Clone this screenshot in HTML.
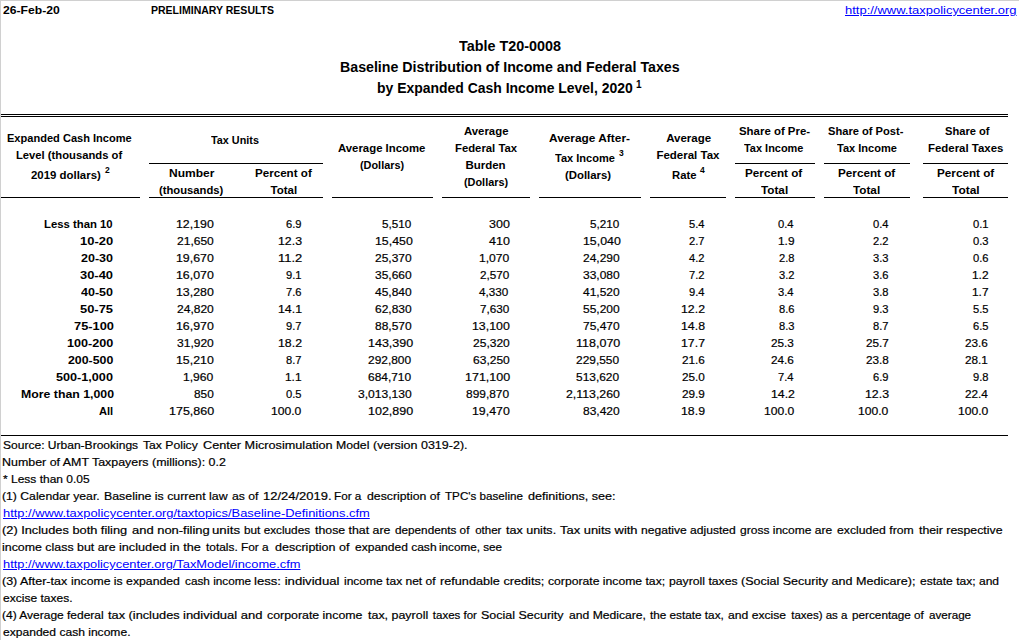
<!DOCTYPE html><html><head><meta charset="utf-8"><style>
html,body{margin:0;padding:0;background:#fff;width:1019px;height:640px;overflow:hidden;position:relative}
.t{position:absolute;white-space:nowrap;font-family:'Liberation Sans', sans-serif;line-height:14px;color:#000}
.t{-webkit-text-stroke:0.2px currentColor}.b{font-weight:bold;-webkit-text-stroke:0}.u{text-decoration:underline;-webkit-text-stroke:0}
.ln{position:absolute}
</style></head><body>
<div class="ln" style="left:0px;top:0px;width:1019px;height:1px;background:#d0d0d0"></div>
<div class="ln" style="left:0px;top:0px;width:1px;height:640px;background:#d0d0d0"></div>
<div class="ln" style="left:1px;top:114px;width:1007px;height:1px;background:#000"></div>
<div class="ln" style="left:1px;top:116px;width:1007px;height:1px;background:#000"></div>
<div class="ln" style="left:149px;top:163px;width:174px;height:1px;background:#000"></div>
<div class="ln" style="left:735px;top:163px;width:80px;height:1px;background:#000"></div>
<div class="ln" style="left:824px;top:163px;width:86px;height:1px;background:#000"></div>
<div class="ln" style="left:923px;top:163px;width:85px;height:1px;background:#000"></div>
<div class="ln" style="left:1px;top:197px;width:139px;height:1px;background:#000"></div>
<div class="ln" style="left:149px;top:197px;width:174px;height:1px;background:#000"></div>
<div class="ln" style="left:332px;top:197px;width:101px;height:1px;background:#000"></div>
<div class="ln" style="left:442px;top:197px;width:88px;height:1px;background:#000"></div>
<div class="ln" style="left:539px;top:197px;width:102px;height:1px;background:#000"></div>
<div class="ln" style="left:650px;top:197px;width:76px;height:1px;background:#000"></div>
<div class="ln" style="left:735px;top:197px;width:80px;height:1px;background:#000"></div>
<div class="ln" style="left:824px;top:197px;width:86px;height:1px;background:#000"></div>
<div class="ln" style="left:923px;top:197px;width:85px;height:1px;background:#000"></div>
<div class="ln" style="left:1px;top:435px;width:1007px;height:1px;background:#000"></div>
<div class="t b" style="top:3px;font-size:11.5px;left:3.00px;transform:scaleX(1.0566);transform-origin:left;">26-Feb-20</div>
<div class="t b" style="top:3px;font-size:11.5px;left:151.03px;transform:scaleX(0.9142);transform-origin:left;">PRELIMINARY RESULTS</div>
<div class="t u" style="top:3px;font-size:11.5px;color:#0000ff;left:844.83px;transform:scaleX(1.1276);transform-origin:left;">http://www.taxpolicycenter.org</div>
<div class="t b" style="top:39px;font-size:14px;left:459.00px;transform:scaleX(1.0253);transform-origin:left;">Table T20-0008</div>
<div class="t b" style="top:60px;font-size:14px;left:339.99px;transform:scaleX(1.0135);transform-origin:left;">Baseline Distribution of Income and Federal Taxes</div>
<div class="t b" style="top:81px;font-size:14px;left:377.00px;transform:scaleX(0.9961);transform-origin:left;">by Expanded Cash Income Level, 2020</div>
<div class="t b" style="top:78px;font-size:10px;left:636.00px;">1</div>
<div class="t b" style="top:131px;font-size:11.5px;left:7.02px;transform:scaleX(0.9613);transform-origin:left;">Expanded Cash Income</div>
<div class="t b" style="top:148px;font-size:11.5px;left:16.20px;transform:scaleX(0.9772);transform-origin:left;">Level (thousands of</div>
<div class="t b" style="top:168px;font-size:11.5px;left:31.21px;transform:scaleX(0.9929);transform-origin:left;">2019 dollars)</div>
<div class="t b" style="top:163px;font-size:8.5px;left:105.00px;">2</div>
<div class="t b" style="top:133px;font-size:11.5px;left:211.01px;transform:scaleX(0.9408);transform-origin:left;">Tax Units</div>
<div class="t b" style="top:166px;font-size:11.5px;left:168.78px;transform:scaleX(1.0467);transform-origin:left;">Number</div>
<div class="t b" style="top:183px;font-size:11.5px;left:159.22px;transform:scaleX(0.9769);transform-origin:left;">(thousands)</div>
<div class="t b" style="top:166px;font-size:11.5px;left:254.99px;transform:scaleX(1.0090);transform-origin:left;">Percent of</div>
<div class="t b" style="top:183px;font-size:11.5px;left:270.58px;">Total</div>
<div class="t b" style="top:141px;font-size:11.5px;left:338.21px;transform:scaleX(0.9886);transform-origin:left;">Average Income</div>
<div class="t b" style="top:158px;font-size:11.5px;left:360.03px;transform:scaleX(0.9459);transform-origin:left;">(Dollars)</div>
<div class="t b" style="top:124px;font-size:11.5px;left:464.41px;transform:scaleX(0.9892);transform-origin:left;">Average</div>
<div class="t b" style="top:141px;font-size:11.5px;left:455.20px;transform:scaleX(0.9840);transform-origin:left;">Federal Tax</div>
<div class="t b" style="top:158px;font-size:11.5px;left:465.40px;">Burden</div>
<div class="t b" style="top:175px;font-size:11.5px;left:464.43px;transform:scaleX(0.9457);transform-origin:left;">(Dollars)</div>
<div class="t b" style="top:131px;font-size:11.5px;left:549.16px;transform:scaleX(1.0328);transform-origin:left;">Average After-</div>
<div class="t b" style="top:151px;font-size:11.5px;left:555.21px;transform:scaleX(0.9598);transform-origin:left;">Tax Income</div>
<div class="t b" style="top:146px;font-size:8.5px;left:619.00px;">3</div>
<div class="t b" style="top:168px;font-size:11.5px;left:565.41px;transform:scaleX(0.9891);transform-origin:left;">(Dollars)</div>
<div class="t b" style="top:131px;font-size:11.5px;left:666.19px;">Average</div>
<div class="t b" style="top:148px;font-size:11.5px;left:656.40px;">Federal Tax</div>
<div class="t b" style="top:168px;font-size:11.5px;left:671.99px;transform:scaleX(0.9801);transform-origin:left;">Rate</div>
<div class="t b" style="top:163px;font-size:8.5px;left:700.00px;">4</div>
<div class="t b" style="top:124px;font-size:11.5px;left:738.60px;transform:scaleX(0.9930);transform-origin:left;">Share of Pre-</div>
<div class="t b" style="top:141px;font-size:11.5px;left:744.21px;transform:scaleX(0.9518);transform-origin:left;">Tax Income</div>
<div class="t b" style="top:124px;font-size:11.5px;left:828.21px;transform:scaleX(0.9677);transform-origin:left;">Share of Post-</div>
<div class="t b" style="top:141px;font-size:11.5px;left:837.19px;transform:scaleX(0.9598);transform-origin:left;">Tax Income</div>
<div class="t b" style="top:124px;font-size:11.5px;left:944.60px;transform:scaleX(0.9676);transform-origin:left;">Share of</div>
<div class="t b" style="top:141px;font-size:11.5px;left:927.60px;transform:scaleX(0.9935);transform-origin:left;">Federal Taxes</div>
<div class="t b" style="top:166px;font-size:11.5px;left:745.39px;transform:scaleX(1.0180);transform-origin:left;">Percent of</div>
<div class="t b" style="top:183px;font-size:11.5px;left:761.21px;transform:scaleX(1.0194);transform-origin:left;">Total</div>
<div class="t b" style="top:166px;font-size:11.5px;left:837.78px;transform:scaleX(1.0180);transform-origin:left;">Percent of</div>
<div class="t b" style="top:183px;font-size:11.5px;left:852.81px;transform:scaleX(1.0198);transform-origin:left;">Total</div>
<div class="t b" style="top:166px;font-size:11.5px;left:936.59px;transform:scaleX(1.0180);transform-origin:left;">Percent of</div>
<div class="t b" style="top:183px;font-size:11.5px;left:952.00px;transform:scaleX(1.0385);transform-origin:left;">Total</div>
<div class="t b" style="top:217px;font-size:11.5px;left:44.41px;transform:scaleX(0.9854);transform-origin:left;">Less than 10</div>
<div class="t" style="top:217px;font-size:11.5px;left:176.13px;transform:scaleX(1.0739);transform-origin:left;">12,190</div>
<div class="t" style="top:217px;font-size:11.5px;left:286.00px;transform:scaleX(0.9708);transform-origin:left;">6.9</div>
<div class="t" style="top:217px;font-size:11.5px;left:381.62px;transform:scaleX(1.0178);transform-origin:left;">5,510</div>
<div class="t" style="top:217px;font-size:11.5px;left:488.73px;transform:scaleX(1.0848);transform-origin:left;">300</div>
<div class="t" style="top:217px;font-size:11.5px;left:589.62px;transform:scaleX(1.0178);transform-origin:left;">5,210</div>
<div class="t" style="top:217px;font-size:11.5px;left:689.00px;transform:scaleX(0.9708);transform-origin:left;">5.4</div>
<div class="t" style="top:217px;font-size:11.5px;left:777.98px;transform:scaleX(0.9746);transform-origin:left;">0.4</div>
<div class="t" style="top:217px;font-size:11.5px;left:873.00px;transform:scaleX(0.9708);transform-origin:left;">0.4</div>
<div class="t" style="top:217px;font-size:11.5px;left:972.95px;transform:scaleX(0.9708);transform-origin:left;">0.1</div>
<div class="t b" style="top:234px;font-size:11.5px;left:79.87px;transform:scaleX(1.1255);transform-origin:left;">10-20</div>
<div class="t" style="top:234px;font-size:11.5px;left:177.12px;transform:scaleX(1.0457);transform-origin:left;">21,650</div>
<div class="t" style="top:234px;font-size:11.5px;left:277.93px;transform:scaleX(1.0725);transform-origin:left;">12.3</div>
<div class="t" style="top:234px;font-size:11.5px;left:374.54px;transform:scaleX(1.0739);transform-origin:left;">15,450</div>
<div class="t" style="top:234px;font-size:11.5px;left:488.77px;transform:scaleX(1.0848);transform-origin:left;">410</div>
<div class="t" style="top:234px;font-size:11.5px;left:582.54px;transform:scaleX(1.0739);transform-origin:left;">15,040</div>
<div class="t" style="top:234px;font-size:11.5px;left:689.00px;transform:scaleX(0.9708);transform-origin:left;">2.7</div>
<div class="t" style="top:234px;font-size:11.5px;left:777.95px;transform:scaleX(1.0355);transform-origin:left;">1.9</div>
<div class="t" style="top:234px;font-size:11.5px;left:873.00px;transform:scaleX(0.9708);transform-origin:left;">2.2</div>
<div class="t" style="top:234px;font-size:11.5px;left:972.95px;transform:scaleX(0.9708);transform-origin:left;">0.3</div>
<div class="t b" style="top:251px;font-size:11.5px;left:81.00px;transform:scaleX(1.0866);transform-origin:left;">20-30</div>
<div class="t" style="top:251px;font-size:11.5px;left:176.13px;transform:scaleX(1.0739);transform-origin:left;">19,670</div>
<div class="t" style="top:251px;font-size:11.5px;left:277.87px;transform:scaleX(1.1261);transform-origin:left;">11.2</div>
<div class="t" style="top:251px;font-size:11.5px;left:374.59px;transform:scaleX(1.0432);transform-origin:left;">25,370</div>
<div class="t" style="top:251px;font-size:11.5px;left:478.75px;transform:scaleX(1.0542);transform-origin:left;">1,070</div>
<div class="t" style="top:251px;font-size:11.5px;left:582.59px;transform:scaleX(1.0432);transform-origin:left;">24,290</div>
<div class="t" style="top:251px;font-size:11.5px;left:689.00px;transform:scaleX(0.9708);transform-origin:left;">4.2</div>
<div class="t" style="top:251px;font-size:11.5px;left:778.95px;transform:scaleX(0.9708);transform-origin:left;">2.8</div>
<div class="t" style="top:251px;font-size:11.5px;left:873.00px;transform:scaleX(0.9708);transform-origin:left;">3.3</div>
<div class="t" style="top:251px;font-size:11.5px;left:972.95px;transform:scaleX(0.9708);transform-origin:left;">0.6</div>
<div class="t b" style="top:268px;font-size:11.5px;left:79.97px;transform:scaleX(1.1217);transform-origin:left;">30-40</div>
<div class="t" style="top:268px;font-size:11.5px;left:176.13px;transform:scaleX(1.0739);transform-origin:left;">16,070</div>
<div class="t" style="top:268px;font-size:11.5px;left:286.00px;transform:scaleX(0.9708);transform-origin:left;">9.1</div>
<div class="t" style="top:268px;font-size:11.5px;left:374.59px;transform:scaleX(1.0432);transform-origin:left;">35,660</div>
<div class="t" style="top:268px;font-size:11.5px;left:479.77px;transform:scaleX(1.0190);transform-origin:left;">2,570</div>
<div class="t" style="top:268px;font-size:11.5px;left:582.59px;transform:scaleX(1.0432);transform-origin:left;">33,080</div>
<div class="t" style="top:268px;font-size:11.5px;left:689.00px;transform:scaleX(0.9708);transform-origin:left;">7.2</div>
<div class="t" style="top:268px;font-size:11.5px;left:778.95px;transform:scaleX(0.9708);transform-origin:left;">3.2</div>
<div class="t" style="top:268px;font-size:11.5px;left:873.00px;transform:scaleX(0.9708);transform-origin:left;">3.6</div>
<div class="t" style="top:268px;font-size:11.5px;left:971.95px;transform:scaleX(1.0355);transform-origin:left;">1.2</div>
<div class="t b" style="top:285px;font-size:11.5px;left:81.00px;transform:scaleX(1.0866);transform-origin:left;">40-50</div>
<div class="t" style="top:285px;font-size:11.5px;left:176.13px;transform:scaleX(1.0739);transform-origin:left;">13,280</div>
<div class="t" style="top:285px;font-size:11.5px;left:286.00px;transform:scaleX(0.9708);transform-origin:left;">7.6</div>
<div class="t" style="top:285px;font-size:11.5px;left:374.59px;transform:scaleX(1.0432);transform-origin:left;">45,840</div>
<div class="t" style="top:285px;font-size:11.5px;left:478.81px;transform:scaleX(1.0178);transform-origin:left;">4,330</div>
<div class="t" style="top:285px;font-size:11.5px;left:582.59px;transform:scaleX(1.0432);transform-origin:left;">41,520</div>
<div class="t" style="top:285px;font-size:11.5px;left:689.00px;transform:scaleX(0.9708);transform-origin:left;">9.4</div>
<div class="t" style="top:285px;font-size:11.5px;left:777.98px;transform:scaleX(0.9746);transform-origin:left;">3.4</div>
<div class="t" style="top:285px;font-size:11.5px;left:873.00px;transform:scaleX(0.9708);transform-origin:left;">3.8</div>
<div class="t" style="top:285px;font-size:11.5px;left:971.95px;transform:scaleX(1.0355);transform-origin:left;">1.7</div>
<div class="t b" style="top:302px;font-size:11.5px;left:79.97px;transform:scaleX(1.1217);transform-origin:left;">50-75</div>
<div class="t" style="top:302px;font-size:11.5px;left:177.12px;transform:scaleX(1.0457);transform-origin:left;">24,820</div>
<div class="t" style="top:302px;font-size:11.5px;left:277.93px;transform:scaleX(1.0725);transform-origin:left;">14.1</div>
<div class="t" style="top:302px;font-size:11.5px;left:374.59px;transform:scaleX(1.0432);transform-origin:left;">62,830</div>
<div class="t" style="top:302px;font-size:11.5px;left:479.77px;transform:scaleX(1.0190);transform-origin:left;">7,630</div>
<div class="t" style="top:302px;font-size:11.5px;left:582.59px;transform:scaleX(1.0432);transform-origin:left;">55,200</div>
<div class="t" style="top:302px;font-size:11.5px;left:680.93px;transform:scaleX(1.0725);transform-origin:left;">12.2</div>
<div class="t" style="top:302px;font-size:11.5px;left:778.95px;transform:scaleX(0.9708);transform-origin:left;">8.6</div>
<div class="t" style="top:302px;font-size:11.5px;left:873.00px;transform:scaleX(0.9708);transform-origin:left;">9.3</div>
<div class="t" style="top:302px;font-size:11.5px;left:972.95px;transform:scaleX(0.9708);transform-origin:left;">5.5</div>
<div class="t b" style="top:319px;font-size:11.5px;left:73.72px;transform:scaleX(1.1147);transform-origin:left;">75-100</div>
<div class="t" style="top:319px;font-size:11.5px;left:176.13px;transform:scaleX(1.0739);transform-origin:left;">16,970</div>
<div class="t" style="top:319px;font-size:11.5px;left:286.00px;transform:scaleX(0.9708);transform-origin:left;">9.7</div>
<div class="t" style="top:319px;font-size:11.5px;left:374.59px;transform:scaleX(1.0432);transform-origin:left;">88,570</div>
<div class="t" style="top:319px;font-size:11.5px;left:471.76px;transform:scaleX(1.0739);transform-origin:left;">13,100</div>
<div class="t" style="top:319px;font-size:11.5px;left:582.59px;transform:scaleX(1.0432);transform-origin:left;">75,470</div>
<div class="t" style="top:319px;font-size:11.5px;left:680.93px;transform:scaleX(1.0725);transform-origin:left;">14.8</div>
<div class="t" style="top:319px;font-size:11.5px;left:778.95px;transform:scaleX(0.9708);transform-origin:left;">8.3</div>
<div class="t" style="top:319px;font-size:11.5px;left:873.00px;transform:scaleX(0.9708);transform-origin:left;">8.7</div>
<div class="t" style="top:319px;font-size:11.5px;left:972.95px;transform:scaleX(0.9708);transform-origin:left;">6.5</div>
<div class="t b" style="top:336px;font-size:11.5px;left:66.73px;transform:scaleX(1.0979);transform-origin:left;">100-200</div>
<div class="t" style="top:336px;font-size:11.5px;left:177.12px;transform:scaleX(1.0457);transform-origin:left;">31,920</div>
<div class="t" style="top:336px;font-size:11.5px;left:277.93px;transform:scaleX(1.0725);transform-origin:left;">18.2</div>
<div class="t" style="top:336px;font-size:11.5px;left:367.52px;transform:scaleX(1.0878);transform-origin:left;">143,390</div>
<div class="t" style="top:336px;font-size:11.5px;left:472.77px;transform:scaleX(1.0457);transform-origin:left;">25,320</div>
<div class="t" style="top:336px;font-size:11.5px;left:575.52px;transform:scaleX(1.0878);transform-origin:left;">118,070</div>
<div class="t" style="top:336px;font-size:11.5px;left:680.93px;transform:scaleX(1.0725);transform-origin:left;">17.7</div>
<div class="t" style="top:336px;font-size:11.5px;left:770.97px;transform:scaleX(1.0237);transform-origin:left;">25.3</div>
<div class="t" style="top:336px;font-size:11.5px;left:866.00px;transform:scaleX(1.0237);transform-origin:left;">25.7</div>
<div class="t" style="top:336px;font-size:11.5px;left:964.97px;transform:scaleX(1.0237);transform-origin:left;">23.6</div>
<div class="t b" style="top:353px;font-size:11.5px;left:67.73px;transform:scaleX(1.0740);transform-origin:left;">200-500</div>
<div class="t" style="top:353px;font-size:11.5px;left:176.13px;transform:scaleX(1.0739);transform-origin:left;">15,210</div>
<div class="t" style="top:353px;font-size:11.5px;left:286.00px;transform:scaleX(0.9708);transform-origin:left;">8.7</div>
<div class="t" style="top:353px;font-size:11.5px;left:367.61px;transform:scaleX(1.0371);transform-origin:left;">292,800</div>
<div class="t" style="top:353px;font-size:11.5px;left:472.77px;transform:scaleX(1.0457);transform-origin:left;">63,250</div>
<div class="t" style="top:353px;font-size:11.5px;left:575.61px;transform:scaleX(1.0371);transform-origin:left;">229,550</div>
<div class="t" style="top:353px;font-size:11.5px;left:682.00px;transform:scaleX(1.0237);transform-origin:left;">21.6</div>
<div class="t" style="top:353px;font-size:11.5px;left:770.97px;transform:scaleX(1.0237);transform-origin:left;">24.6</div>
<div class="t" style="top:353px;font-size:11.5px;left:866.00px;transform:scaleX(1.0237);transform-origin:left;">23.8</div>
<div class="t" style="top:353px;font-size:11.5px;left:964.97px;transform:scaleX(1.0237);transform-origin:left;">28.1</div>
<div class="t b" style="top:370px;font-size:11.5px;left:56.16px;transform:scaleX(1.0987);transform-origin:left;">500-1,000</div>
<div class="t" style="top:370px;font-size:11.5px;left:183.17px;transform:scaleX(1.0542);transform-origin:left;">1,960</div>
<div class="t" style="top:370px;font-size:11.5px;left:284.96px;transform:scaleX(1.0355);transform-origin:left;">1.1</div>
<div class="t" style="top:370px;font-size:11.5px;left:367.61px;transform:scaleX(1.0371);transform-origin:left;">684,710</div>
<div class="t" style="top:370px;font-size:11.5px;left:464.73px;transform:scaleX(1.0859);transform-origin:left;">171,100</div>
<div class="t" style="top:370px;font-size:11.5px;left:575.61px;transform:scaleX(1.0371);transform-origin:left;">513,620</div>
<div class="t" style="top:370px;font-size:11.5px;left:682.00px;transform:scaleX(1.0237);transform-origin:left;">25.0</div>
<div class="t" style="top:370px;font-size:11.5px;left:777.98px;transform:scaleX(0.9746);transform-origin:left;">7.4</div>
<div class="t" style="top:370px;font-size:11.5px;left:873.00px;transform:scaleX(0.9708);transform-origin:left;">6.9</div>
<div class="t" style="top:370px;font-size:11.5px;left:972.95px;transform:scaleX(0.9708);transform-origin:left;">9.8</div>
<div class="t b" style="top:387px;font-size:11.5px;left:20.75px;transform:scaleX(1.0698);transform-origin:left;">More than 1,000</div>
<div class="t" style="top:387px;font-size:11.5px;left:194.14px;transform:scaleX(1.0305);transform-origin:left;">850</div>
<div class="t" style="top:387px;font-size:11.5px;left:286.00px;transform:scaleX(0.9708);transform-origin:left;">0.5</div>
<div class="t" style="top:387px;font-size:11.5px;left:357.60px;transform:scaleX(1.0492);transform-origin:left;">3,013,130</div>
<div class="t" style="top:387px;font-size:11.5px;left:465.76px;transform:scaleX(1.0371);transform-origin:left;">899,870</div>
<div class="t" style="top:387px;font-size:11.5px;left:565.60px;transform:scaleX(1.0702);transform-origin:left;">2,113,260</div>
<div class="t" style="top:387px;font-size:11.5px;left:682.00px;transform:scaleX(1.0237);transform-origin:left;">29.9</div>
<div class="t" style="top:387px;font-size:11.5px;left:770.96px;transform:scaleX(1.0703);transform-origin:left;">14.2</div>
<div class="t" style="top:387px;font-size:11.5px;left:864.93px;transform:scaleX(1.0725);transform-origin:left;">12.3</div>
<div class="t" style="top:387px;font-size:11.5px;left:964.97px;transform:scaleX(1.0237);transform-origin:left;">22.4</div>
<div class="t b" style="top:404px;font-size:11.5px;left:99.00px;transform:scaleX(0.9664);transform-origin:left;">All</div>
<div class="t" style="top:404px;font-size:11.5px;left:169.12px;transform:scaleX(1.0878);transform-origin:left;">175,860</div>
<div class="t" style="top:404px;font-size:11.5px;left:270.95px;transform:scaleX(1.0542);transform-origin:left;">100.0</div>
<div class="t" style="top:404px;font-size:11.5px;left:367.52px;transform:scaleX(1.0878);transform-origin:left;">102,890</div>
<div class="t" style="top:404px;font-size:11.5px;left:471.76px;transform:scaleX(1.0739);transform-origin:left;">19,470</div>
<div class="t" style="top:404px;font-size:11.5px;left:582.59px;transform:scaleX(1.0432);transform-origin:left;">83,420</div>
<div class="t" style="top:404px;font-size:11.5px;left:680.93px;transform:scaleX(1.0725);transform-origin:left;">18.9</div>
<div class="t" style="top:404px;font-size:11.5px;left:763.96px;transform:scaleX(1.0542);transform-origin:left;">100.0</div>
<div class="t" style="top:404px;font-size:11.5px;left:857.95px;transform:scaleX(1.0542);transform-origin:left;">100.0</div>
<div class="t" style="top:404px;font-size:11.5px;left:957.96px;transform:scaleX(1.0542);transform-origin:left;">100.0</div>
<div class="t" style="top:438px;font-size:11.5px;left:3.00px;transform:scaleX(1.0465);transform-origin:left;">Source: Urban-Brookings</div>
<div class="t" style="top:438px;font-size:11.5px;left:143.22px;transform:scaleX(1.0579);transform-origin:left;">Tax Policy</div>
<div class="t" style="top:438px;font-size:11.5px;left:202.56px;transform:scaleX(1.1026);transform-origin:left;">Center Microsimulation</div>
<div class="t" style="top:438px;font-size:11.5px;left:335.75px;transform:scaleX(1.0660);transform-origin:left;">Model</div>
<div class="t" style="top:438px;font-size:11.5px;left:372.56px;transform:scaleX(1.0873);transform-origin:left;">(version 0319-2).</div>
<div class="t" style="top:455px;font-size:11.5px;left:1.92px;transform:scaleX(1.0801);transform-origin:left;">Number of AMT Taxpayers (millions): 0.2</div>
<div class="t" style="top:472px;font-size:11.5px;left:3.00px;transform:scaleX(1.0422);transform-origin:left;">* Less than 0.05</div>
<div class="t" style="top:489px;font-size:11.5px;left:1.94px;transform:scaleX(1.0612);transform-origin:left;">(1) Calendar year.</div>
<div class="t" style="top:489px;font-size:11.5px;left:103.74px;transform:scaleX(1.0740);transform-origin:left;">Baseline is current law</div>
<div class="t" style="top:489px;font-size:11.5px;left:231.79px;transform:scaleX(1.0606);transform-origin:left;">as of</div>
<div class="t" style="top:489px;font-size:11.5px;left:262.94px;transform:scaleX(1.1274);transform-origin:left;">12/24/2019.</div>
<div class="t" style="top:489px;font-size:11.5px;left:333.58px;transform:scaleX(1.0194);transform-origin:left;">For a</div>
<div class="t" style="top:489px;font-size:11.5px;left:366.95px;transform:scaleX(1.0664);transform-origin:left;">description of</div>
<div class="t" style="top:489px;font-size:11.5px;left:445.00px;transform:scaleX(1.0131);transform-origin:left;">TPC's baseline</div>
<div class="t" style="top:489px;font-size:11.5px;left:528.11px;transform:scaleX(1.0964);transform-origin:left;">definitions, see:</div>
<div class="t u" style="top:506px;font-size:11.5px;color:#0000ff;left:3.00px;transform:scaleX(1.1208);transform-origin:left;">http://www.taxpolicycenter.org/taxtopics/Baseline-Definitions.cfm</div>
<div class="t" style="top:523px;font-size:11.5px;left:1.89px;transform:scaleX(1.1126);transform-origin:left;">(2) Includes both filing</div>
<div class="t" style="top:523px;font-size:11.5px;left:131.72px;transform:scaleX(1.1251);transform-origin:left;">and non-filing</div>
<div class="t" style="top:523px;font-size:11.5px;left:211.85px;transform:scaleX(1.1530);transform-origin:left;">units</div>
<div class="t" style="top:523px;font-size:11.5px;left:243.98px;transform:scaleX(1.0236);transform-origin:left;">but excludes</div>
<div class="t" style="top:523px;font-size:11.5px;left:315.00px;transform:scaleX(1.0715);transform-origin:left;">those that are</div>
<div class="t" style="top:523px;font-size:11.5px;left:394.79px;transform:scaleX(1.0206);transform-origin:left;">dependents of</div>
<div class="t" style="top:523px;font-size:11.5px;left:475.17px;">other</div>
<div class="t" style="top:523px;font-size:11.5px;left:505.61px;transform:scaleX(1.0889);transform-origin:left;">tax units.</div>
<div class="t" style="top:523px;font-size:11.5px;left:559.61px;transform:scaleX(1.1234);transform-origin:left;">Tax units with</div>
<div class="t" style="top:523px;font-size:11.5px;left:640.79px;transform:scaleX(1.0506);transform-origin:left;">negative adjusted</div>
<div class="t" style="top:523px;font-size:11.5px;left:739.60px;transform:scaleX(1.0455);transform-origin:left;">gross income are</div>
<div class="t" style="top:523px;font-size:11.5px;left:836.61px;transform:scaleX(1.0626);transform-origin:left;">excluded from</div>
<div class="t" style="top:523px;font-size:11.5px;left:918.78px;transform:scaleX(1.0706);transform-origin:left;">their respective</div>
<div class="t" style="top:540px;font-size:11.5px;left:1.92px;transform:scaleX(1.0770);transform-origin:left;">income class but are</div>
<div class="t" style="top:540px;font-size:11.5px;left:119.12px;transform:scaleX(1.1028);transform-origin:left;">included in the</div>
<div class="t" style="top:540px;font-size:11.5px;left:205.61px;transform:scaleX(1.0329);transform-origin:left;">totals. For a</div>
<div class="t" style="top:540px;font-size:11.5px;left:274.95px;transform:scaleX(1.0885);transform-origin:left;">description of</div>
<div class="t" style="top:540px;font-size:11.5px;left:354.77px;transform:scaleX(1.0456);transform-origin:left;">expanded cash</div>
<div class="t" style="top:540px;font-size:11.5px;left:439.18px;transform:scaleX(1.0165);transform-origin:left;">income, see</div>
<div class="t u" style="top:557px;font-size:11.5px;color:#0000ff;left:3.00px;transform:scaleX(1.1161);transform-origin:left;">http://www.taxpolicycenter.org/TaxModel/income.cfm</div>
<div class="t" style="top:574px;font-size:11.5px;left:1.92px;transform:scaleX(1.0849);transform-origin:left;">(3) After-tax</div>
<div class="t" style="top:574px;font-size:11.5px;left:71.36px;transform:scaleX(1.0644);transform-origin:left;">income is expanded</div>
<div class="t" style="top:574px;font-size:11.5px;left:184.98px;transform:scaleX(1.0235);transform-origin:left;">cash income</div>
<div class="t" style="top:574px;font-size:11.5px;left:254.31px;transform:scaleX(1.1421);transform-origin:left;">less: individual</div>
<div class="t" style="top:574px;font-size:11.5px;left:343.97px;transform:scaleX(1.0458);transform-origin:left;">income tax net of</div>
<div class="t" style="top:574px;font-size:11.5px;left:439.51px;transform:scaleX(1.1022);transform-origin:left;">refundable credits;</div>
<div class="t" style="top:574px;font-size:11.5px;left:547.79px;transform:scaleX(1.0591);transform-origin:left;">corporate income tax;</div>
<div class="t" style="top:574px;font-size:11.5px;left:668.75px;transform:scaleX(1.0626);transform-origin:left;">payroll taxes</div>
<div class="t" style="top:574px;font-size:11.5px;left:741.17px;transform:scaleX(1.0891);transform-origin:left;">(Social Security and</div>
<div class="t" style="top:574px;font-size:11.5px;left:856.16px;transform:scaleX(1.0945);transform-origin:left;">Medicare);</div>
<div class="t" style="top:574px;font-size:11.5px;left:919.76px;transform:scaleX(1.0476);transform-origin:left;">estate tax; and</div>
<div class="t" style="top:591px;font-size:11.5px;left:3.00px;transform:scaleX(1.0456);transform-origin:left;">excise taxes.</div>
<div class="t" style="top:608px;font-size:11.5px;left:1.96px;transform:scaleX(1.0417);transform-origin:left;">(4) Average federal</div>
<div class="t" style="top:608px;font-size:11.5px;left:108.00px;transform:scaleX(1.1094);transform-origin:left;">tax (includes</div>
<div class="t" style="top:608px;font-size:11.5px;left:182.87px;transform:scaleX(1.1305);transform-origin:left;">individual and</div>
<div class="t" style="top:608px;font-size:11.5px;left:267.13px;transform:scaleX(1.0740);transform-origin:left;">corporate income</div>
<div class="t" style="top:608px;font-size:11.5px;left:368.18px;transform:scaleX(1.0820);transform-origin:left;">tax, payroll</div>
<div class="t" style="top:608px;font-size:11.5px;left:432.80px;">taxes for</div>
<div class="t" style="top:608px;font-size:11.5px;left:480.77px;transform:scaleX(1.0856);transform-origin:left;">Social Security</div>
<div class="t" style="top:608px;font-size:11.5px;left:569.18px;transform:scaleX(1.0556);transform-origin:left;">and Medicare,</div>
<div class="t" style="top:608px;font-size:11.5px;left:650.18px;transform:scaleX(1.0213);transform-origin:left;">the estate tax,</div>
<div class="t" style="top:608px;font-size:11.5px;left:728.13px;transform:scaleX(1.0559);transform-origin:left;">and excise</div>
<div class="t" style="top:608px;font-size:11.5px;left:791.21px;">taxes) as a</div>
<div class="t" style="top:608px;font-size:11.5px;left:851.98px;transform:scaleX(1.0214);transform-origin:left;">percentage of</div>
<div class="t" style="top:608px;font-size:11.5px;left:928.60px;transform:scaleX(1.0125);transform-origin:left;">average</div>
<div class="t" style="top:625px;font-size:11.5px;left:3.00px;transform:scaleX(1.0496);transform-origin:left;">expanded cash income.</div>
</body></html>
